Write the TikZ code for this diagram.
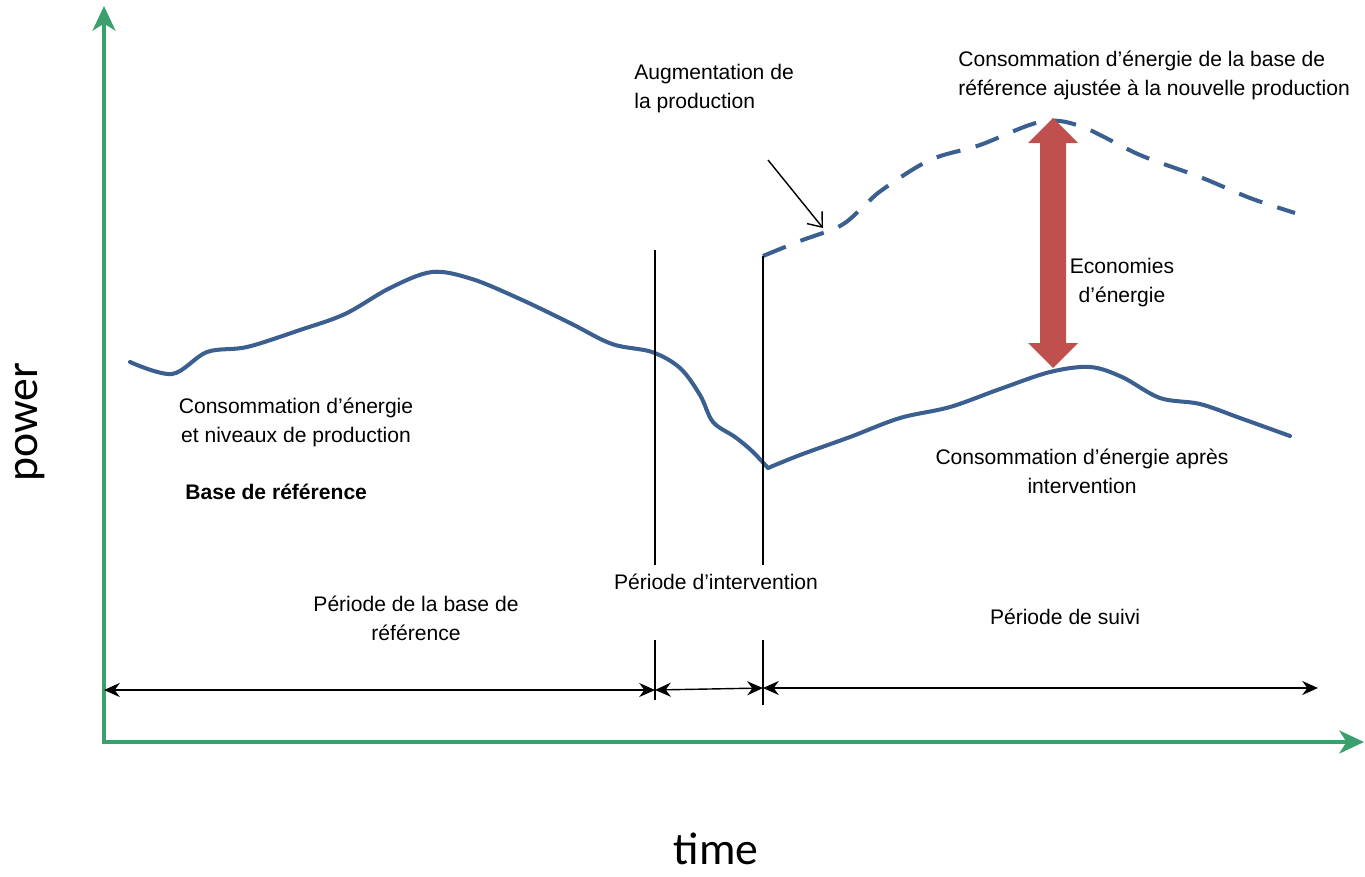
\documentclass[tikz,border=0pt]{standalone}
\usepackage{fontspec}
\setmainfont{Liberation Sans}
\newfontfamily\axisfont{Carlito}
\usetikzlibrary{arrows.meta}
\definecolor{axisgreen}{RGB}{60,160,110}
\definecolor{curveblue}{RGB}{59,95,143}
\definecolor{savingred}{RGB}{192,80,77}
\tikzstyle{axisline} = [line width=2.3pt, draw=axisgreen, {Stealth[length=14pt,width=13pt,inset=4pt]}-{Stealth[length=14pt,width=13pt,inset=4pt]}]
\tikzstyle{curve} = [line width=2.3pt, draw=curveblue, line join=round, line cap=round]
\tikzstyle{adjusted} = [line width=2.3pt, draw=curveblue, dash pattern=on 14pt off 9pt]
\tikzstyle{txt} = [inner sep=0pt, font=\fontsize{12}{16.5}\selectfont, align=center]
\tikzstyle{divider} = [line width=0.8pt, draw=black]
\tikzstyle{span} = [line width=0.8pt, {Stealth[length=9pt,width=8pt]}-{Stealth[length=9pt,width=8pt]}]
\tikzstyle{pointer} = [line width=0.8pt, -{Straight Barb[length=7pt,width=11pt]}]

\begin{document}
\begin{tikzpicture}[x=0.02cm, y=-0.02cm]
	\useasboundingbox (0,0) rectangle (1365,876);
	% axes
	\coordinate (ytop) at (104,6);
	\coordinate (origin) at (104,742);
	\coordinate (xend) at (1364,742);
	\draw [axisline] (ytop) -- (origin) -- (xend);
	\node (power) [rotate=90, inner sep=0pt, font=\axisfont\fontsize{26}{30}\selectfont] at (30,422) {power};
	\node (time) [inner sep=0pt, text depth=0pt, anchor=base, font=\axisfont\fontsize{26}{30}\selectfont] at (716,864) {time};
	% consumption curves
	\draw [curve] plot[smooth, tension=0.55] coordinates {(130,362) (172,374) (207,352) (247,347) (300,330) (345,314) (390,288) (432,272) (472,279) (520,299) (570,323) (612,344) (652,352) (680,368) (700,395) (713,422) (735,437) (752,451) (768,468)};
	\draw [curve] plot[smooth, tension=0.55] coordinates {(768,468) (800,455) (850,437) (900,418) (950,407) (1000,389) (1050,372) (1090,367) (1122,377) (1160,398) (1200,404) (1240,418) (1290,436)};
	\draw [adjusted] plot[smooth, tension=0.55] coordinates {(763,256) (800,241) (840,226) (862,208) (882,190) (930,160) (980,145) (1040,122) (1080,126) (1140,155) (1200,177) (1250,198) (1295,213)};
	% energy savings
	\coordinate (peak) at (1053,118);
	\coordinate (low) at (1053,368);
	\fill [savingred] (peak) -- ++(25,25) -- ++(-12,0) -- ++(0,200) -- ++(12,0) -- (low) -- ++(-25,-25) -- ++(12,0) -- ++(0,-200) -- ++(-12,0) -- cycle;
	% periods
	\coordinate (a1) at (655,250);
	\coordinate (a2) at (655,565);
	\coordinate (a3) at (655,640);
	\coordinate (a4) at (655,700);
	\coordinate (b1) at (763,256);
	\coordinate (b2) at (763,565);
	\coordinate (b3) at (763,640);
	\coordinate (b4) at (763,705);
	\draw [divider] (a1) -- (a2);
	\draw [divider] (a3) -- (a4);
	\draw [divider] (b1) -- (b2);
	\draw [divider] (b3) -- (b4);
	\coordinate (s0) at (104,690);
	\coordinate (s1) at (655,690);
	\coordinate (s2) at (763,688);
	\coordinate (s3) at (1318,688);
	\draw [span] (s0) -- (s1);
	\draw [span] (s1) -- (s2);
	\draw [span] (s2) -- (s3);
	\coordinate (tail) at (768,160);
	\coordinate (head) at (823,228);
	\draw [pointer] (tail) -- (head);
	% labels
	\node (increase) [txt, anchor=west, align=left] at (634,89) {Augmentation de\\la production};
	\node (adjust) [txt, anchor=west, align=left] at (958,75) {Consommation d’énergie de la base de\\référence ajustée à la nouvelle production};
	\node (savings) [txt] at (1122,283) {Economies\\d’énergie};
	\node (before) [txt] at (296,422) {Consommation d’énergie\\ et niveaux de production};
	\node (baseline) [txt, anchor=west, font=\fontsize{12}{16.5}\selectfont\bfseries] at (185,492) {Base de référence};
	\node (after) [txt] at (1082,471) {Consommation d’énergie après\\intervention};
	\node (intervention) [txt] at (716,582) {Période d’intervention};
	\node (baseperiod) [txt] at (416,618) {Période de la base de\\référence};
	\node (monitoring) [txt] at (1065,617) {Période de suivi};
\end{tikzpicture}
\end{document}
